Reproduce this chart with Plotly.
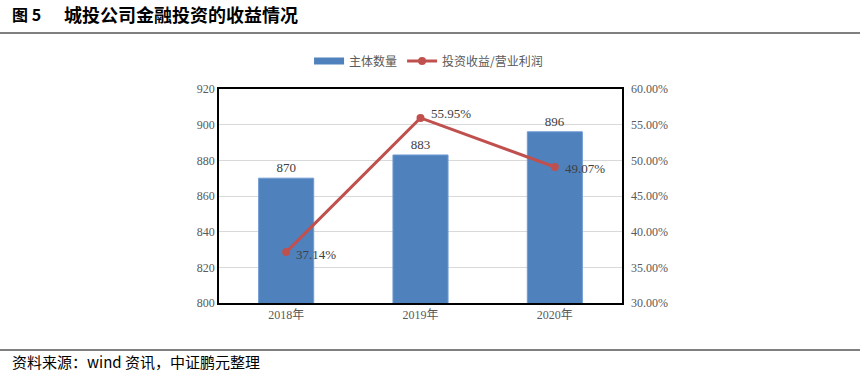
import plotly.graph_objects as go

categories = ["2018年", "2019年", "2020年"]
entity_counts = [870, 883, 896]
invest_ratio = [37.14, 55.95, 49.07]
left_ticks = [800, 820, 840, 860, 880, 900, 920]
right_ticks = [30, 35, 40, 45, 50, 55, 60]

serif = "Liberation Serif, Noto Sans CJK SC, serif"
cjk = "Noto Sans CJK SC, sans-serif"

fig = go.Figure()
fig.add_trace(go.Bar(
    x=categories, y=entity_counts, name="主体数量", showlegend=False,
    marker=dict(color="#4F81BD", line=dict(color="#6F9BD4", width=1)),
    width=0.41,
    text=[str(v) for v in entity_counts], textposition="outside",
    textfont=dict(family=serif, size=13, color="#404040"),
    cliponaxis=False,
))
fig.add_trace(go.Scatter(
    x=[None], y=[None], name="主体数量", mode="lines",
    line=dict(color="#4F81BD", width=7), showlegend=True,
))
fig.add_trace(go.Scatter(
    x=categories, y=invest_ratio, name="投资收益/营业利润", yaxis="y2",
    mode="lines+markers",
    line=dict(color="#C0504D", width=3),
    marker=dict(color="#C0504D", size=8),
    cliponaxis=False,
))

yshifts = [-2, 4, -2]
for c, v, ys in zip(categories, invest_ratio, yshifts):
    fig.add_annotation(x=c, y=v, xref="x", yref="y2", text=f"{v:.2f}%",
                       showarrow=False, xanchor="left", yanchor="middle",
                       xshift=8, yshift=ys,
                       font=dict(family=serif, size=13, color="#404040"))

fig.update_layout(
    width=862, height=378,
    margin=dict(l=219, r=240, t=89, b=75, autoexpand=False),
    plot_bgcolor="white", paper_bgcolor="white",
    showlegend=True,
    legend=dict(orientation="h", x=0.52, xanchor="center", y=(303-61)/214, yanchor="middle",
                font=dict(family=cjk, size=12, color="#595959"), itemwidth=30),
    xaxis=dict(showline=True, linecolor="black", linewidth=1.5, mirror=True,
               tickfont=dict(family=serif, size=12, color="#595959"), ticks=""),
    yaxis=dict(range=[800, 920], tickvals=left_ticks, showgrid=True, gridcolor="#D9D9D9",
               showline=True, linecolor="black", linewidth=1.5, mirror=True,
               tickfont=dict(family=serif, size=12, color="#595959"), ticks="", zeroline=False),
    yaxis2=dict(range=[30, 60], tickvals=right_ticks, ticktext=[f"{v:.2f}%" for v in right_ticks],
                overlaying="y", side="right", showgrid=False, zeroline=False,
                tickfont=dict(family=serif, size=12, color="#595959"), ticks="", ticklabelstandoff=8),
)

fig.add_annotation(text="<b>图 5</b>", xref="paper", yref="paper",
                   x=-209/403, y=(303-14)/214, xanchor="left", yanchor="middle",
                   showarrow=False, font=dict(family=cjk, size=16, color="black"))
fig.add_annotation(text="<b>城投公司金融投资的收益情况</b>", xref="paper", yref="paper",
                   x=-157/403, y=(303-14)/214, xanchor="left", yanchor="middle",
                   showarrow=False, font=dict(family=cjk, size=18, color="black"))
fig.add_annotation(text="资料来源：wind 资讯，中证鹏元整理", xref="paper", yref="paper",
                   x=-209/403, y=(303-361)/214, xanchor="left", yanchor="middle",
                   showarrow=False, font=dict(family=cjk, size=15, color="black"))
fig.add_shape(type="line", xref="paper", yref="paper", x0=-219/403, x1=(860-219)/403,
              y0=(303-33)/214, y1=(303-33)/214, line=dict(color="black", width=1))
fig.add_shape(type="line", xref="paper", yref="paper", x0=-219/403, x1=(860-219)/403,
              y0=(303-350)/214, y1=(303-350)/214, line=dict(color="black", width=1))

fig.write_html("out.html", post_script="document.body.style.margin='0px';",
               config={"displayModeBar": False})
